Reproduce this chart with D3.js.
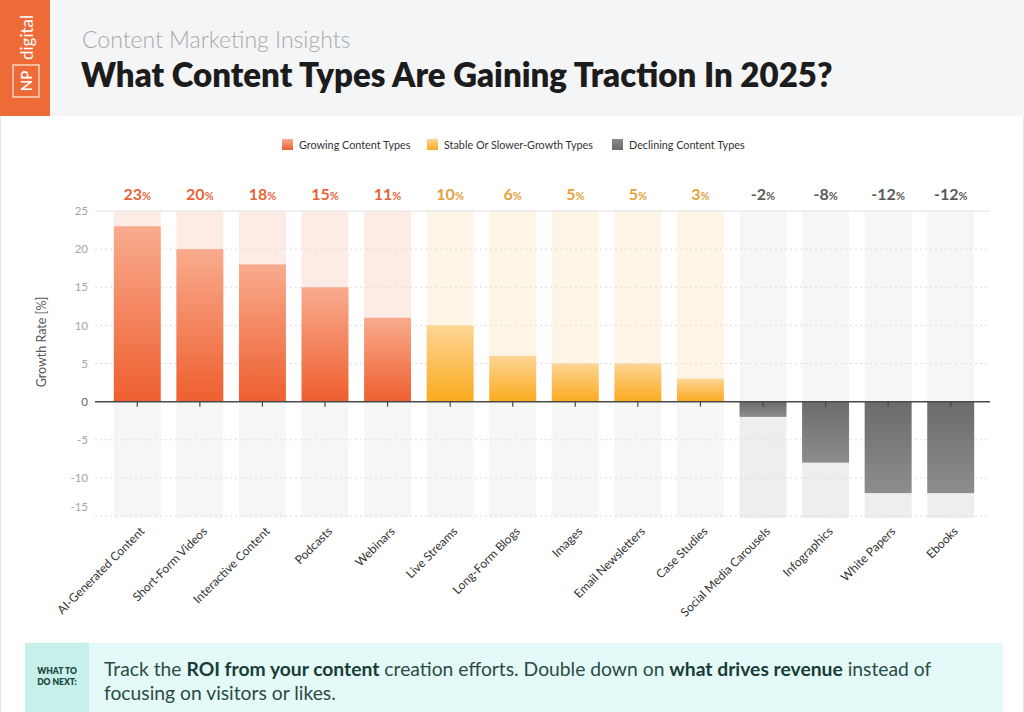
<!DOCTYPE html>
<html><head><meta charset="utf-8">
<script src="https://cdn.jsdelivr.net/npm/d3@7"></script>
<style>
html,body{margin:0;padding:0;background:#fff;}
svg{display:block;}
</style></head>
<body>
<svg id="chart" width="1024" height="712"></svg>
<script>
const categories = ["AI-Generated Content","Short-Form Videos","Interactive Content","Podcasts","Webinars","Live Streams","Long-Form Blogs","Images","Email Newsletters","Case Studies","Social Media Carousels","Infographics","White Papers","Ebooks"];
const values = [23,20,18,15,11,10,6,5,5,3,-2,-8,-12,-12];
const groups = ["grow","grow","grow","grow","grow","stable","stable","stable","stable","stable","decl","decl","decl","decl"];
const groupNames = ["Growing Content Types","Stable Or Slower-Growth Types","Declining Content Types"];
const yTicks = [-15,-10,-5,0,5,10,15,20,25];

const svg = d3.select("#chart");
const W = 1024, H = 712;
const FONT = "Lato, 'Open Sans', sans-serif";

// page border
svg.append("rect").attr("x",0.5).attr("y",0.5).attr("width",W-1).attr("height",H).attr("fill","#fff").attr("stroke","#e6e6e6");

// header
svg.append("rect").attr("x",0).attr("y",0).attr("width",W).attr("height",116).attr("fill","#f4f5f6");
svg.append("rect").attr("x",0).attr("y",0).attr("width",50).attr("height",116).attr("fill","#ee6a36");
const logo = svg.append("g").attr("transform","translate(33,60) rotate(-90)");
logo.append("text").attr("x",0).attr("y",0).attr("fill","#fff").attr("font-family",FONT).attr("font-size",17).text("digital");
const np = svg.append("g").attr("transform","translate(26,81) rotate(-90)");
np.append("rect").attr("x",-16).attr("y",-13).attr("width",32).attr("height",26).attr("fill","none").attr("stroke","#fbd6c6").attr("stroke-width",1.5);
np.append("text").attr("x",0).attr("y",6).attr("text-anchor","middle").attr("fill","#fff").attr("font-family",FONT).attr("font-size",15).attr("font-weight",600).text("NP");

svg.append("text").attr("x",82).attr("y",48).attr("font-family",FONT).attr("font-weight",300).attr("font-size",23).attr("fill","#a9a9a9").text("Content Marketing Insights");
svg.append("text").attr("x",81).attr("y",87).attr("font-family",FONT).attr("font-weight",800).attr("font-size",33).attr("fill","#1c1c1c").text("What Content Types Are Gaining Traction In 2025?");

// colors
const barTop = {grow:"#f9ab8e", stable:"#fdd595", decl:"#6b6b6b"};
const barBot = {grow:"#ee5f2f", stable:"#fbab1e", decl:"#8d8d8d"};
const bgPos = {grow:"#fdebe5", stable:"#fef5e6", decl:"#f6f6f6"};
const bgNeg = {grow:"#f6f6f6", stable:"#f6f6f6", decl:"#eeeeee"};
const labelCol = {grow:"#e5653b", stable:"#e3a23a", decl:"#5a5a5a"};

const defs = svg.append("defs");
["grow","stable","decl"].forEach(g=>{
  const lg = defs.append("linearGradient").attr("id","g-"+g).attr("x1",0).attr("y1",0).attr("x2",0).attr("y2",1);
  lg.append("stop").attr("offset","0%").attr("stop-color",barTop[g]);
  lg.append("stop").attr("offset","100%").attr("stop-color",barBot[g]);
});

// legend
const legendX = [282, 427, 612];
const legendKeys = ["grow","stable","decl"];
legendKeys.forEach((k,i)=>{
  const lg = defs.append("linearGradient").attr("id","lg-"+k).attr("x1",0).attr("y1",0).attr("x2",0).attr("y2",1);
  lg.append("stop").attr("offset","0%").attr("stop-color",k==="decl"?"#8a8a8a":barTop[k]);
  lg.append("stop").attr("offset","100%").attr("stop-color",k==="decl"?"#6b6b6b":barBot[k]);
  svg.append("rect").attr("x",legendX[i]).attr("y",139).attr("width",11).attr("height",11).attr("fill","url(#lg-"+k+")");
  svg.append("text").attr("x",legendX[i]+17).attr("y",148.5).attr("font-family",FONT).attr("font-size",10.8).attr("fill","#333").text(groupNames[i]);
});

// scales
const x = d3.scaleBand().domain(categories).range([106,982]).paddingInner(0.25).paddingOuter(0.125);
const y = d3.scaleLinear().domain([-15,25]).range([516,211]);
const plotL = 95, plotR = 990;

// background columns
const data = categories.map((c,i)=>({c, v:values[i], g:groups[i]}));
const g = svg.append("g");
g.selectAll("rect.bgp").data(data).join("rect").attr("class","bgp")
  .attr("x",d=>x(d.c)).attr("width",x.bandwidth()).attr("y",y(25)).attr("height",y(0)-y(25)).attr("fill",d=>bgPos[d.g]);
g.selectAll("rect.bgn").data(data).join("rect").attr("class","bgn")
  .attr("x",d=>x(d.c)).attr("width",x.bandwidth()).attr("y",y(0)).attr("height",y(-15)-y(0)+2).attr("fill",d=>bgNeg[d.g]);

// gridlines
const grid = svg.append("g");
yTicks.forEach(t=>{
  if (t===0) return;
  grid.append("line").attr("x1",plotL).attr("x2",plotR).attr("y1",y(t)).attr("y2",y(t))
    .attr("stroke", t===25 ? "#e2e2e2" : "#dddddd").attr("stroke-width",1)
    .attr("stroke-dasharray", t===25 ? null : "2,3");
});

// bars
svg.append("g").selectAll("rect").data(data).join("rect")
  .attr("x",d=>x(d.c)).attr("width",x.bandwidth())
  .attr("y",d=>y(Math.max(0,d.v))).attr("height",d=>Math.abs(y(d.v)-y(0)))
  .attr("fill",d=>"url(#g-"+d.g+")");

// zero axis
const xAxis = d3.axisBottom(x).tickSize(5).tickFormat("");
const xa = svg.append("g").attr("transform",`translate(0,${y(0)})`).call(xAxis);
xa.select(".domain").remove();
xa.selectAll(".tick line").attr("stroke","#444").attr("stroke-width",1.2);
svg.append("line").attr("x1",plotL).attr("x2",plotR).attr("y1",y(0)).attr("y2",y(0)).attr("stroke","#4a4a4a").attr("stroke-width",1.5);

// y axis labels
const yAxis = d3.axisLeft(y).tickValues(yTicks).tickSize(0).tickPadding(0).tickFormat(d=>String(d));
const ya = svg.append("g").attr("transform",`translate(${plotL-7},0)`).call(yAxis);
ya.select(".domain").remove();
ya.selectAll(".tick text").attr("font-family",FONT).attr("font-size",11.5).attr("fill",d=>d===0?"#666":"#a5a5a5")
  .attr("dy",d=>d===-15?"-0.5em":"0.32em");

svg.append("text").attr("transform",`translate(46,342) rotate(-90)`).attr("text-anchor","middle")
  .attr("font-family",FONT).attr("font-size",12.5).attr("fill","#555").text("Growth Rate [%]");

// value labels
const vl = svg.append("g").selectAll("text").data(data).join("text")
  .attr("x",d=>x(d.c)+x.bandwidth()/2).attr("y",200).attr("text-anchor","middle")
  .attr("font-family",FONT).attr("font-weight",700).attr("font-size",16).attr("fill",d=>labelCol[d.g]);
vl.append("tspan").text(d=>d.v);
vl.append("tspan").attr("font-size",11).text("%");

// x labels rotated
svg.append("g").selectAll("text").data(data).join("text")
  .attr("transform",d=>`translate(${x(d.c)+x.bandwidth()/2+8},${y(-15)+16}) rotate(-45)`)
  .attr("text-anchor","end").attr("font-family",FONT).attr("font-size",12).attr("fill","#333").text(d=>d.c);

// footer
svg.append("rect").attr("x",25).attr("y",643).attr("width",978).attr("height",75).attr("fill","#e3faf8");
svg.append("rect").attr("x",25).attr("y",643).attr("width",64).attr("height",75).attr("fill","#c8f0eb");
svg.append("text").attr("x",57).attr("y",674).attr("text-anchor","middle").attr("font-family",FONT).attr("font-weight",800).attr("font-size",8.5).attr("fill","#1f4a42").text("WHAT TO");
svg.append("text").attr("x",57).attr("y",685).attr("text-anchor","middle").attr("font-family",FONT).attr("font-weight",800).attr("font-size",8.5).attr("fill","#1f4a42").text("DO NEXT:");

const line1 = [["Track the ",400],["ROI from your content",700],[" creation efforts. Double down on ",400],["what drives revenue",700],[" instead of",400]];
const t1 = svg.append("text").attr("x",104).attr("y",676).attr("font-family",FONT).attr("font-size",19.3).attr("fill","#2c4a46");
line1.forEach(([s,w])=>t1.append("tspan").attr("font-weight",w).attr("fill",w===700?"#183c36":"#2c4a46").text(s));
svg.append("text").attr("x",104).attr("y",700).attr("font-family",FONT).attr("font-size",19.3).attr("fill","#2c4a46").text("focusing on visitors or likes.");
</script>
</body></html>
